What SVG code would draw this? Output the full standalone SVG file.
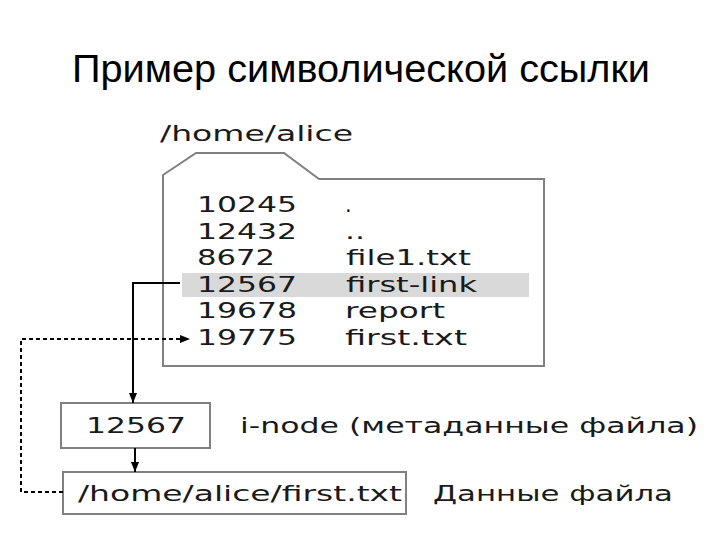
<svg xmlns="http://www.w3.org/2000/svg" width="720" height="540" viewBox="0 0 720 540">
<defs>
<style>
.t{font-family:"DejaVu Sans","Verdana",sans-serif;font-size:21px;fill:#1a1a1a}
.title{font-family:"Liberation Sans",Arial,sans-serif;font-size:38px;fill:#000}
.box{fill:#fff;stroke:#808080;stroke-width:2}
.ln{fill:none;stroke:#000;stroke-width:2}
.dash{fill:none;stroke:#000;stroke-width:2;stroke-dasharray:4 3}
</style>
<marker id="ah" viewBox="0 0 10 10" refX="10" refY="5" markerWidth="10" markerHeight="10" markerUnits="userSpaceOnUse" orient="auto">
<path d="M0,1 L10,5 L0,9 Z" fill="#000"/>
</marker>
</defs>
<rect width="720" height="540" fill="#fff"/>
<text class="title" x="72" y="82" textLength="578" lengthAdjust="spacingAndGlyphs">Пример символической ссылки</text>

<g id="folder">
<text class="t" x="160" y="141" textLength="193" lengthAdjust="spacingAndGlyphs">/home/alice</text>
<path class="box" d="M163,175 L196,153 L284,153 L319,179 L544,179 L544,366 L163,366 Z"/>
<rect x="182" y="273" width="347" height="24" fill="#d9d9d9"/>
<text class="t" x="197" y="212" textLength="100" lengthAdjust="spacingAndGlyphs">10245</text>
<text class="t" x="197" y="239" textLength="100" lengthAdjust="spacingAndGlyphs">12432</text>
<text class="t" x="197" y="265" textLength="78" lengthAdjust="spacingAndGlyphs">8672</text>
<text class="t" x="197" y="292" textLength="100" lengthAdjust="spacingAndGlyphs">12567</text>
<text class="t" x="197" y="318" textLength="100" lengthAdjust="spacingAndGlyphs">19678</text>
<text class="t" x="197" y="345" textLength="100" lengthAdjust="spacingAndGlyphs">19775</text>
<text class="t" x="345" y="212">.</text>
<text class="t" x="345" y="239" textLength="20" lengthAdjust="spacingAndGlyphs">..</text>
<text class="t" x="346" y="265" textLength="125" lengthAdjust="spacingAndGlyphs">file1.txt</text>
<text class="t" x="346" y="292" textLength="131" lengthAdjust="spacingAndGlyphs">first-link</text>
<text class="t" x="345" y="318" textLength="100" lengthAdjust="spacingAndGlyphs">report</text>
<text class="t" x="345" y="345" textLength="122" lengthAdjust="spacingAndGlyphs">first.txt</text>
</g>

<g id="inode">
<rect class="box" x="61" y="403" width="149" height="45"/>
<text class="t" x="86" y="433" textLength="100" lengthAdjust="spacingAndGlyphs">12567</text>
<text class="t" x="240" y="433" textLength="458" lengthAdjust="spacingAndGlyphs">i-node (метаданные файла)</text>
</g>

<g id="data">
<rect class="box" x="63" y="472" width="343" height="42"/>
<text class="t" x="78" y="501" textLength="324" lengthAdjust="spacingAndGlyphs">/home/alice/first.txt</text>
<text class="t" x="433" y="501" textLength="240" lengthAdjust="spacingAndGlyphs">Данные файла</text>
</g>

<g id="connectors">
<path class="ln" d="M180,283 L133,283 L133,403" marker-end="url(#ah)"/>
<path class="ln" d="M135,448 L135,472" marker-end="url(#ah)"/>
<path class="dash" d="M63,492 L21,492 L21,339 L190,339" marker-end="url(#ah)"/>
</g>
</svg>
